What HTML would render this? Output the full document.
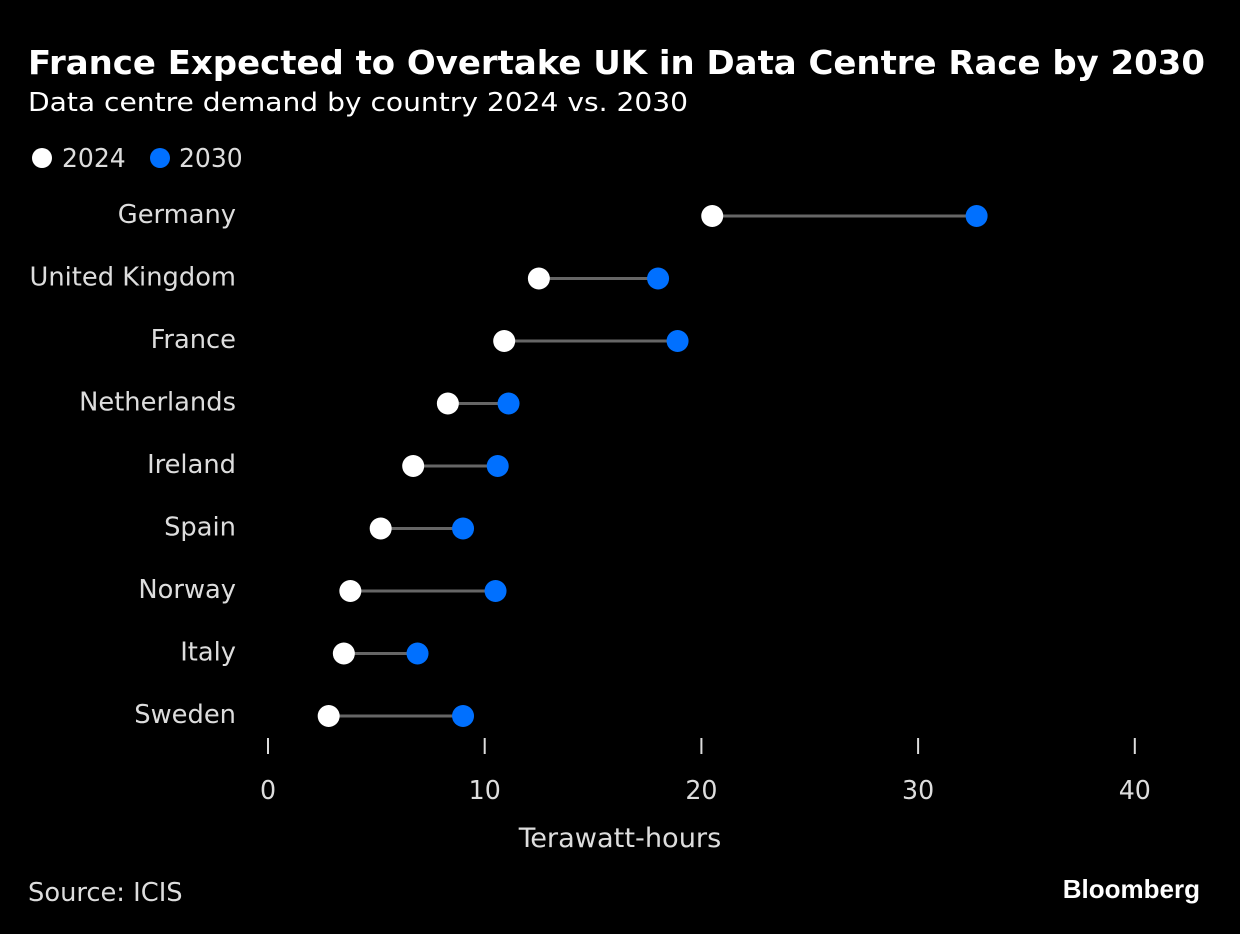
<!DOCTYPE html>
<html><head><meta charset="utf-8"><style>
body{margin:0;background:#000;}
svg{display:block;font-family:"DejaVu Sans","Liberation Sans",sans-serif;}
.c{font-family:"DejaVu Sans Condensed","DejaVu Sans",sans-serif;fill:#ddd;}
</style></head><body>
<svg id="chart" width="1240" height="934" viewBox="0 0 1240 934">
<rect width="1240" height="934" fill="#000"/>
<text x="28" y="74" fill="#fff" font-weight="bold" font-size="33" textLength="1177" lengthAdjust="spacingAndGlyphs">France Expected to Overtake UK in Data Centre Race by 2030</text>
<text x="28" y="111" fill="#fff" font-size="26" textLength="660" lengthAdjust="spacingAndGlyphs">Data centre demand by country 2024 vs. 2030</text>
<g>
<circle cx="42" cy="158" r="10" fill="#fff"/>
<text class="c" transform="translate(62,167) scale(1.07,1)" font-size="26">2024</text>
<circle cx="160" cy="158" r="10" fill="#0070ff"/>
<text class="c" transform="translate(179,167) scale(1.07,1)" font-size="26">2030</text>
</g>
<g id="plot"></g>
<text class="c" transform="translate(620,847) scale(1.12,1)" font-size="27" text-anchor="middle">Terawatt-hours</text>
<text class="c" transform="translate(28,901) scale(1.1,1)" font-size="26">Source: ICIS</text>
<text x="1200" y="898" fill="#fff" font-size="26" font-weight="bold" text-anchor="end" font-family="Liberation Sans,sans-serif">Bloomberg</text>
</svg>
<script>
const countries=["Germany","United Kingdom","France","Netherlands","Ireland","Spain","Norway","Italy","Sweden"];
const values2024=[20.5,12.5,10.9,8.3,6.7,5.2,3.8,3.5,2.8];
const values2030=[32.7,18.0,18.9,11.1,10.6,9.0,10.5,6.9,9.0];
const tickValues=[0,10,20,30,40];
const tickLabels=["0","10","20","30","40"];
const NS="http://www.w3.org/2000/svg";
const g=document.getElementById('plot');
const x=v=>268+v*21.67;
const y=i=>216+i*62.5;
function mk(t,a){const e=document.createElementNS(NS,t);for(const k in a)e.setAttribute(k,a[k]);g.appendChild(e);return e;}
tickValues.forEach((v,i)=>{
 const l=mk('line',{x1:x(v),x2:x(v),y1:738,y2:754,stroke:'#ddd','stroke-width':2});
 
 
 const t=mk('text',{transform:'translate('+x(v)+',799) scale(1.08,1)','class':'c','font-size':26,'text-anchor':'middle'});
 t.textContent=tickLabels[i];
 
 
});
countries.forEach((c,i)=>{
 const slug=c.toLowerCase().replace(/ /g,'-');
 const t=mk('text',{transform:'translate(236,'+(y(i)+7)+') scale(1.1,1)','class':'c','font-size':26,'text-anchor':'end'});
 t.textContent=c;
 
 
 const l=mk('line',{x1:x(values2024[i]),x2:x(values2030[i]),y1:y(i),y2:y(i),stroke:'#666','stroke-width':3});
 
 
 const a=mk('circle',{cx:x(values2024[i]),cy:y(i),r:11,fill:'#fff'});
 
 
 const b=mk('circle',{cx:x(values2030[i]),cy:y(i),r:11,fill:'#0070ff'});
 
 
});
</script>
</body></html>
